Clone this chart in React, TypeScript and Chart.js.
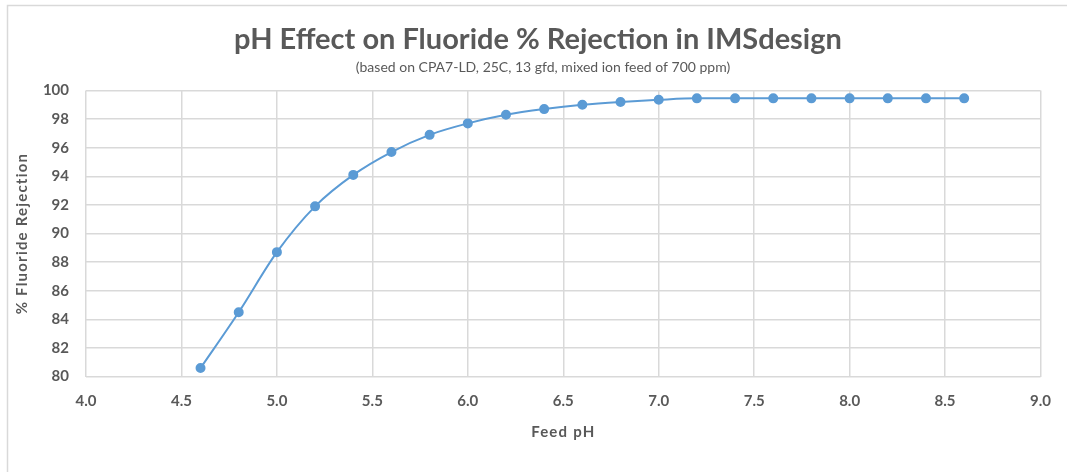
import React, { useEffect, useRef } from "react";
import { Chart, registerables } from "chart.js";

Chart.register(...registerables);

const chartTitle = "pH Effect on Fluoride % Rejection in IMSdesign";
const chartSubtitle = "(based on CPA7-LD, 25C, 13 gfd, mixed ion feed of 700 ppm)";
const xAxisTitle = "Feed pH";
const yAxisTitle = "% Fluoride Rejection";

const feedPH = [4.6, 4.8, 5.0, 5.2, 5.4, 5.6, 5.8, 6.0, 6.2, 6.4, 6.6, 6.8, 7.0, 7.2, 7.4, 7.6, 7.8, 8.0, 8.2, 8.4, 8.6];
const fluorideRejection = [80.6, 84.5, 88.7, 91.9, 94.1, 95.7, 96.9, 97.7, 98.3, 98.7, 99.0, 99.2, 99.35, 99.45, 99.45, 99.45, 99.45, 99.45, 99.45, 99.45, 99.45];

const xMin = 4.0;
const xMax = 9.0;
const xStep = 0.5;
const yMin = 80;
const yMax = 100;
const yStep = 2;

const FONT = "Lato, 'Open Sans', sans-serif";
const TEXT = "#595959";
const GRID = "#d9d9d9";
const BLUE = "#5b9bd5";

export default function App() {
  const ref = useRef<HTMLCanvasElement | null>(null);

  useEffect(() => {
    if (!ref.current) return;
    const decor = {
      id: "decor",
      beforeDraw(chart: any) {
        const ctx = chart.ctx;
        ctx.save();
        ctx.fillStyle = "#ffffff";
        ctx.fillRect(0, 0, chart.width, chart.height);
        ctx.strokeStyle = GRID;
        ctx.lineWidth = 1.5;
        ctx.strokeRect(7.5, 5.5, chart.width + 10, chart.height + 10);
        ctx.restore();
      },
      afterDraw(chart: any) {
        const ctx = chart.ctx;
        const ca = chart.chartArea;
        ctx.save();
        ctx.fillStyle = TEXT;
        ctx.textAlign = "center";
        ctx.textBaseline = "middle";
        ctx.font = `bold 29px ${FONT}`;
        ctx.fillText(chartTitle, 538, 40);
        ctx.font = `14px ${FONT}`;
        ctx.fillText(chartSubtitle, 543, 67);
        (ctx as any).letterSpacing = "1.2px";
        ctx.font = `bold 15px ${FONT}`;
        ctx.fillText(xAxisTitle, (ca.left + ca.right) / 2, 432);
        ctx.translate(22, (ca.top + ca.bottom) / 2);
        ctx.rotate(-Math.PI / 2);
        ctx.fillText(yAxisTitle, 0, 0);
        ctx.restore();
      },
    };

    const chart = new Chart(ref.current, {
      type: "scatter",
      data: {
        datasets: [
          {
            data: feedPH.map((x, i) => ({ x, y: fluorideRejection[i] })),
            showLine: true,
            borderColor: BLUE,
            backgroundColor: BLUE,
            borderWidth: 2,
            pointRadius: 4,
            pointHoverRadius: 4,
            cubicInterpolationMode: "monotone",
          },
        ],
      },
      options: {
        responsive: false,
        animation: false,
        layout: { padding: { left: 0, right: 21, top: 90.5, bottom: 0 } },
        plugins: {
          legend: { display: false },
          title: { display: false },
          tooltip: { enabled: false },
        },
        scales: {
          x: {
            type: "linear",
            min: xMin,
            max: xMax,
            afterFit(scale: any) {
              scale.height = 95.4;
            },
            ticks: {
              stepSize: xStep,
              padding: 16,
              color: TEXT,
              font: { family: FONT, size: 15, weight: "bold" },
              callback: (v: any) => Number(v).toFixed(1),
            },
            grid: { color: GRID, lineWidth: 1.5, drawTicks: false },
            border: { display: false },
          },
          y: {
            min: yMin,
            max: yMax,
            afterFit(scale: any) {
              scale.width = 86;
            },
            ticks: {
              stepSize: yStep,
              padding: 17,
              color: TEXT,
              font: { family: FONT, size: 15, weight: "bold" },
            },
            grid: { color: GRID, lineWidth: 1.5, drawTicks: false },
            border: { display: false },
          },
        },
      },
      plugins: [decor],
    } as any);
    return () => chart.destroy();
  }, []);

  return (
    <div style={{ position: "absolute", left: 0, top: 0, width: 1067, height: 472 }}>
      <canvas ref={ref} width={1067} height={472} style={{ width: 1067, height: 472, display: "block" }} />
    </div>
  );
}
